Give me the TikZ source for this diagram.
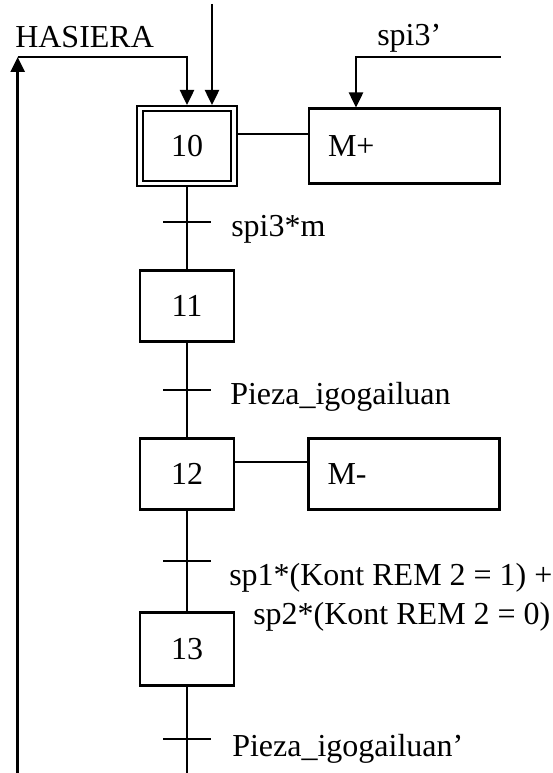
\documentclass[tikz,border=0pt]{standalone}
\usepackage{fontspec}
\setmainfont{Liberation Serif}
\usetikzlibrary{arrows.meta}
\tikzset{
  stepbox/.style={draw, line width=2.5pt, minimum width=94pt, minimum height=71pt, inner sep=0pt},
  initstep/.style={stepbox, line width=2pt, double, double distance=3.5pt, minimum height=74.5pt, outer sep=3.75pt},
  actbox/.style={draw, line width=2.5pt, minimum width=191pt, minimum height=71pt, text width=153pt, inner xsep=19pt, align=left},
  trans/.style={line width=2.5pt},
  cond/.style={anchor=base west, inner sep=0pt},
}
\begin{document}
\begin{tikzpicture}[x=1pt, y=-1pt, line width=2.5pt, >={Triangle[length=15pt,width=14pt]},
    font=\fontsize{32}{39}\selectfont]
    \useasboundingbox (0,0) rectangle (553,773);
        % steps
        \node[initstep] (s10) at (187,146) {10};
        \node[stepbox] (s11) at (187,306) {11};
        \node[stepbox] (s12) at (187,474) {12};
        \node[stepbox, minimum height=73pt] (s13) at (187,649) {13};
        % actions
        \node[actbox, minimum height=74.5pt] (a10) at (404.5,146) {M+};
        \node[actbox] (a12) at (404,474) {M-};
        % transitions
        \coordinate (t1) at (187,222);
        \coordinate (t2) at (187,390);
        \coordinate (t3) at (187,561);
        \coordinate (t4) at (187,739);
        \coordinate (bot) at (187,773);
        \coordinate (hasi) at (17.7,57);
        \coordinate (loopbot) at (17.7,773);
        \coordinate (topin) at (212,4);
        \coordinate (spin) at (500.7,57);
        \coordinate (spdn) at (356,0);
        \draw (s10) -- (s11) -- (s12) -- (s13) -- (bot);
        \draw[trans] ([xshift=-24pt]t1) -- ([xshift=24pt]t1);
        \draw[trans] ([xshift=-24pt]t2) -- ([xshift=24pt]t2);
        \draw[trans] ([xshift=-24pt]t3) -- ([xshift=24pt]t3);
        \draw[trans] ([xshift=-24pt]t4) -- ([xshift=24pt]t4);
        \node[cond] (c1) at (230,236) {spi3*m};
        \node[cond] (c2) at (229,404) {Pieza\_igogailuan};
        \node[cond, align=left] (c3) at (228,624.6) {sp1*(Kont REM 2 = 1) +\\\hspace*{24pt}sp2*(Kont REM 2 = 0)};
        \node[cond] (c4) at (231,756) {Pieza\_igogailuan’};
        % actions links
        \draw ([yshift=12pt]s10.east) -- ([yshift=12pt]a10.west);
        \draw ([yshift=12pt]s12.east) -- ([yshift=12pt]a12.west);
        % inputs
        \draw[->] (loopbot) -- (hasi);
        \draw[->] (hasi) -| (s10.north);
        \draw[->] (topin) -- (topin |- s10.north);
        \draw[->] (spin) -| (spdn |- a10.north);
        \node[cond] (hasiera) at (14,48) {HASIERA};
        \node[cond] (spi) at (376,46) {spi3’};
\end{tikzpicture}
\end{document}
